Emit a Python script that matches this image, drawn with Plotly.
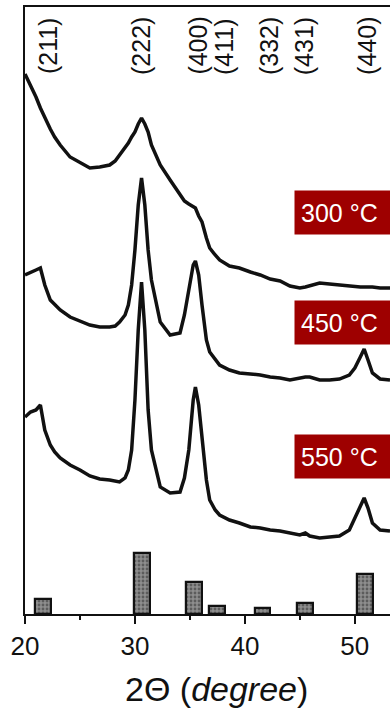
import plotly.graph_objects as go

# 2-theta sampling positions (degrees) shared by the three diffraction patterns
two_theta = [20.0, 20.5, 21.0, 21.4, 21.8, 22.3, 22.7, 23.2, 24.1, 25.0, 25.9, 26.8,
             27.7, 28.2, 28.6, 29.1, 29.4, 29.7, 30.0, 30.3, 30.6, 30.9, 31.2, 31.5,
             32.0, 32.3, 33.2, 34.1, 34.5, 34.9, 35.3, 35.5, 35.8, 36.1, 36.5, 36.8,
             37.3, 37.7, 38.6, 39.5, 40.5, 41.4, 42.3, 43.2, 44.1, 45.0, 45.5, 45.9,
             46.8, 47.7, 48.6, 49.5, 50.0, 50.5, 50.85, 51.2, 51.6, 52.3, 53.2]

# intensities (arbitrary units, offset per annealing temperature)
i_300 = [540, 529, 517, 506, 496, 485, 477, 469, 457, 451, 446, 447,
         449, 453, 459, 466, 471, 477, 482, 490, 496, 490, 482, 469,
         456, 449, 434, 419, 413, 410, 407, 406, 398, 392, 376, 366,
         359, 354, 348, 346, 342, 339, 335, 333, 328, 326, 327, 328,
         331, 330, 329, 328, 327, 327, 327, 327, 327, 326, 326]
i_450 = [339, 342, 344, 346, 329, 314, 309, 304, 297, 293, 289, 287,
         287, 288, 292, 299, 309, 329, 364, 409, 436, 409, 364, 334,
         309, 292, 279, 281, 299, 324, 349, 353, 339, 309, 274, 262,
         254, 249, 244, 241, 240, 239, 237, 236, 234, 236, 237, 237,
         234, 234, 235, 239, 246, 257, 265, 254, 241, 235, 234]
i_550 = [197, 202, 204, 209, 184, 169, 162, 156, 149, 144, 138, 135,
         134, 133, 132, 136, 144, 164, 214, 284, 332, 284, 204, 164,
         139, 127, 121, 122, 136, 164, 214, 227, 209, 174, 134, 114,
         104, 99, 94, 91, 87, 86, 84, 83, 81, 79, 81, 78,
         76, 77, 78, 84, 96, 109, 116, 106, 91, 84, 83]

# reference reflections (Miller indices, position, relative intensity)
hkl_labels = ["(211)", "(222)", "(400)", "(411)", "(332)", "(431)", "(440)"]
hkl_pos = [21.6, 30.6, 35.4, 37.5, 41.6, 45.5, 50.9]
hkl_int = [15, 61, 32, 8, 6, 11, 40]
hkl_label_x = [22.1, 30.55, 35.7, 38.1, 42.2, 45.4, 51.1]

temp_labels = ["300 °C", "450 °C", "550 °C"]
temp_label_y = [402, 292, 158]

FONT = "Liberation Sans, Arial, sans-serif"

fig = go.Figure()

fig.add_trace(go.Bar(
    x=hkl_pos, y=hkl_int, width=1.45,
    marker=dict(color="#8e8e8e", line=dict(color="#111111", width=2.2),
                pattern=dict(shape=".", fgcolor="#2a2a2a", size=4, solidity=0.4)),
    showlegend=False,
))

for ys in (i_300, i_450, i_550):
    fig.add_trace(go.Scatter(
        x=two_theta, y=ys, mode="lines",
        line=dict(color="#111111", width=3.5),
        showlegend=False, cliponaxis=True,
    ))

annotations = []
for lab, xp in zip(hkl_labels, hkl_label_x):
    annotations.append(dict(
        x=xp, xref="x", y=(614 - 46) / 607, yref="paper",
        text=lab, textangle=-90, showarrow=False,
        font=dict(family=FONT, size=25, color="#111111"),
        xanchor="center", yanchor="middle",
    ))

for lab, yv in zip(temp_labels, temp_label_y):
    annotations.append(dict(
        x=44.45, xref="x", y=yv, yref="y",
        text=lab, showarrow=False, align="left",
        xanchor="left", yanchor="middle",
        width=130, height=31, borderpad=6,
        bgcolor="#9e0000",
        font=dict(family=FONT, size=25, color="white"),
    ))

annotations.append(dict(
    x=37.45, xref="x", y=(614 - 689) / 607, yref="paper",
    text="2Θ (<i>degree</i>)", showarrow=False,
    xanchor="center", yanchor="middle",
    font=dict(family=FONT, size=34, color="#111111"),
))

fig.update_layout(
    width=390, height=710,
    margin=dict(l=25, r=0, t=7, b=96),
    paper_bgcolor="white", plot_bgcolor="white",
    bargap=0,
    annotations=annotations,
    xaxis=dict(
        range=[20, 53.2], tickvals=[20, 30, 40, 50],
        ticks="outside", ticklen=8, tickwidth=1.5, tickcolor="#111111",
        minor=dict(tickvals=[25, 35, 45], ticks="outside", ticklen=4,
                   tickwidth=1.5, tickcolor="#111111"),
        showline=True, linecolor="#111111", linewidth=2, mirror=True,
        showgrid=False, zeroline=False,
        tickfont=dict(family=FONT, size=26, color="#111111"),
    ),
    yaxis=dict(
        range=[0, 607], showticklabels=False, ticks="",
        showline=True, linecolor="#111111", linewidth=2,
        showgrid=False, zeroline=False,
    ),
)

fig.write_html("out.html")
